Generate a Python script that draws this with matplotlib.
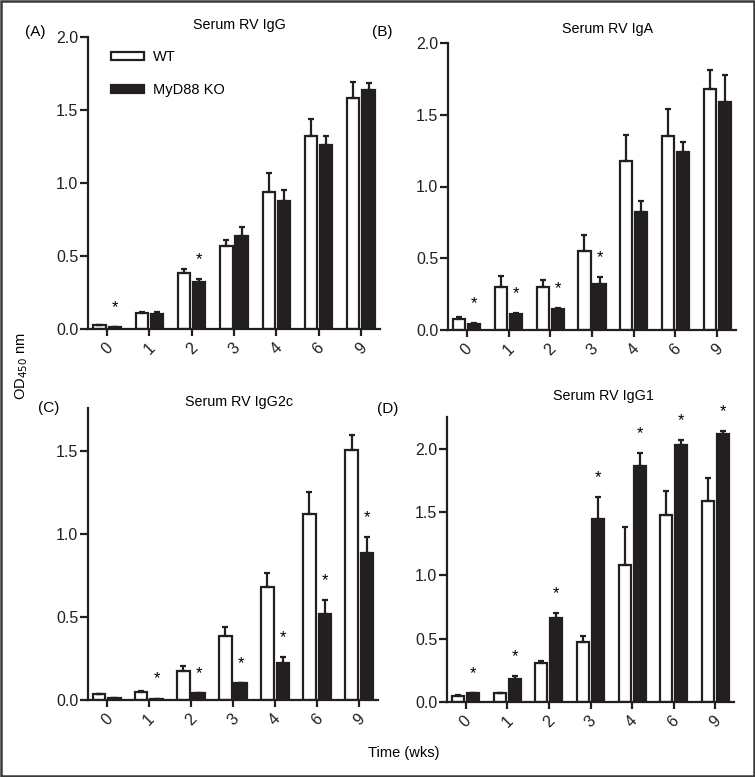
import matplotlib
matplotlib.use("Agg")
import matplotlib.pyplot as plt
import numpy as np
from matplotlib.patches import Rectangle

plt.rcParams["font.family"] = ["Liberation Sans", "DejaVu Sans"]

weeks = ["0", "1", "2", "3", "4", "6", "9"]

# Panel A: Serum RV IgG
igg_wt = [0.025, 0.11, 0.385, 0.57, 0.94, 1.325, 1.58]
igg_wt_err = [0.003, 0.007, 0.025, 0.037, 0.13, 0.115, 0.115]
igg_ko = [0.012, 0.10, 0.32, 0.64, 0.877, 1.263, 1.637]
igg_ko_err = [0.003, 0.015, 0.02, 0.06, 0.078, 0.057, 0.048]
igg_sig = [1, 0, 1, 0, 0, 0, 0]

# Panel B: Serum RV IgA
iga_wt = [0.077, 0.302, 0.298, 0.553, 1.179, 1.349, 1.679]
iga_wt_err = [0.011, 0.077, 0.051, 0.11, 0.181, 0.188, 0.135]
iga_ko = [0.042, 0.109, 0.144, 0.319, 0.819, 1.242, 1.591]
iga_ko_err = [0.005, 0.007, 0.007, 0.053, 0.083, 0.065, 0.188]
iga_sig = [1, 1, 1, 1, 0, 0, 0]

# Panel C: Serum RV IgG2c
igg2c_wt = [0.034, 0.05, 0.177, 0.388, 0.683, 1.12, 1.504]
igg2c_wt_err = [0.002, 0.004, 0.03, 0.05, 0.08, 0.133, 0.092]
igg2c_ko = [0.01, 0.008, 0.04, 0.10, 0.221, 0.518, 0.886]
igg2c_ko_err = [0.002, 0.001, 0.004, 0.004, 0.04, 0.084, 0.098]
igg2c_sig = [0, 1, 1, 1, 1, 1, 1]

# Panel D: Serum RV IgG1
igg1_wt = [0.047, 0.071, 0.308, 0.474, 1.079, 1.476, 1.584]
igg1_wt_err = [0.006, 0.003, 0.018, 0.044, 0.303, 0.187, 0.184]
igg1_ko = [0.071, 0.182, 0.666, 1.445, 1.861, 2.029, 2.118]
igg1_ko_err = [0.003, 0.021, 0.037, 0.173, 0.105, 0.037, 0.024]
igg1_sig = [1, 1, 1, 1, 1, 1, 1]

W, H = 755, 777
fig = plt.figure(figsize=(W / 100, H / 100), dpi=100)


def px_rect(left, right, top, bottom):
    return [left / W, 1 - bottom / H, (right - left) / W, (bottom - top) / H]


def fig_text(x, y, s, **kw):
    fig.text(x / W, 1 - y / H, s, ha="center", va="center", **kw)


DARK = "#231f20"
LW = 1.6
bw = 0.29
off = 0.18


def panel(rect, wt, wt_err, ko, ko_err, sig, ymax, yticks, legend=False):
    ax = fig.add_axes(rect)
    x = np.arange(len(weeks))
    zeros = [0] * len(weeks)
    ax.bar(x - off, wt, bw, color="white", edgecolor=DARK, linewidth=LW,
           yerr=[zeros, wt_err], label="WT",
           error_kw=dict(ecolor=DARK, elinewidth=LW, capsize=2.2, capthick=LW))
    ax.bar(x + off, ko, bw, color=DARK, edgecolor=DARK, linewidth=LW,
           yerr=[zeros, ko_err], label="MyD88 KO",
           error_kw=dict(ecolor=DARK, elinewidth=LW, capsize=2.2, capthick=LW))
    for i, s in enumerate(sig):
        if s:
            ax.annotate("*", (x[i] + off, ko[i] + ko_err[i]), xytext=(0, 14),
                        textcoords="offset points", ha="center", va="center",
                        fontsize=12, annotation_clip=False)
    ax.set_xlim(-0.45, 6.45)
    ax.set_ylim(0, ymax)
    ax.set_yticks(yticks)
    ax.set_yticklabels([f"{t:.1f}" for t in yticks])
    ax.set_xticks(x)
    ax.set_xticklabels(weeks, rotation=45, ha="center", va="top")
    for sp in ["top", "right"]:
        ax.spines[sp].set_visible(False)
    for sp in ["left", "bottom"]:
        ax.spines[sp].set_linewidth(LW)
        ax.spines[sp].set_color(DARK)
    ax.tick_params(axis="y", length=6, width=LW, labelsize=11.5, pad=1, colors=DARK)
    ax.tick_params(axis="x", length=5, width=LW, labelsize=11.5, pad=3, colors=DARK)
    if legend:
        ax.legend(loc="upper left", bbox_to_anchor=(0.033, 1.0), frameon=False,
                  fontsize=10.5, handlelength=2.3, handleheight=0.55,
                  labelspacing=1.3, handletextpad=0.6)
    return ax


panel(px_rect(88, 380, 37, 329), igg_wt, igg_wt_err, igg_ko, igg_ko_err,
      igg_sig, 2.0, [0, 0.5, 1.0, 1.5, 2.0], legend=True)
panel(px_rect(448, 736, 43, 330), iga_wt, iga_wt_err, iga_ko, iga_ko_err,
      iga_sig, 2.0, [0, 0.5, 1.0, 1.5, 2.0])
panel(px_rect(88, 378, 408, 700), igg2c_wt, igg2c_wt_err, igg2c_ko, igg2c_ko_err,
      igg2c_sig, 1.76, [0, 0.5, 1.0, 1.5])
panel(px_rect(447, 734, 417, 702), igg1_wt, igg1_wt_err, igg1_ko, igg1_ko_err,
      igg1_sig, 2.25, [0, 0.5, 1.0, 1.5, 2.0])

fig_text(239, 25, "Serum RV IgG", fontsize=10.3)
fig_text(608, 29, "Serum RV IgA", fontsize=10.3)
fig_text(239, 402, "Serum RV IgG2c", fontsize=10.3)
fig_text(603, 396, "Serum RV IgG1", fontsize=10.3)
fig_text(35, 32, "(A)", fontsize=11)
fig_text(382, 32, "(B)", fontsize=11)
fig_text(49, 408, "(C)", fontsize=11)
fig_text(388, 409, "(D)", fontsize=11)
fig_text(22, 366, "OD$_{450}$ nm", fontsize=10.5, rotation=90)
fig_text(404, 753, "Time (wks)", fontsize=10.5)

fig.patches.append(Rectangle((0.0015, 0.0015), 0.997, 0.997, transform=fig.transFigure,
                             fill=False, edgecolor="#3a3a3a", linewidth=1.8))

fig.savefig("out.png", dpi=100)
